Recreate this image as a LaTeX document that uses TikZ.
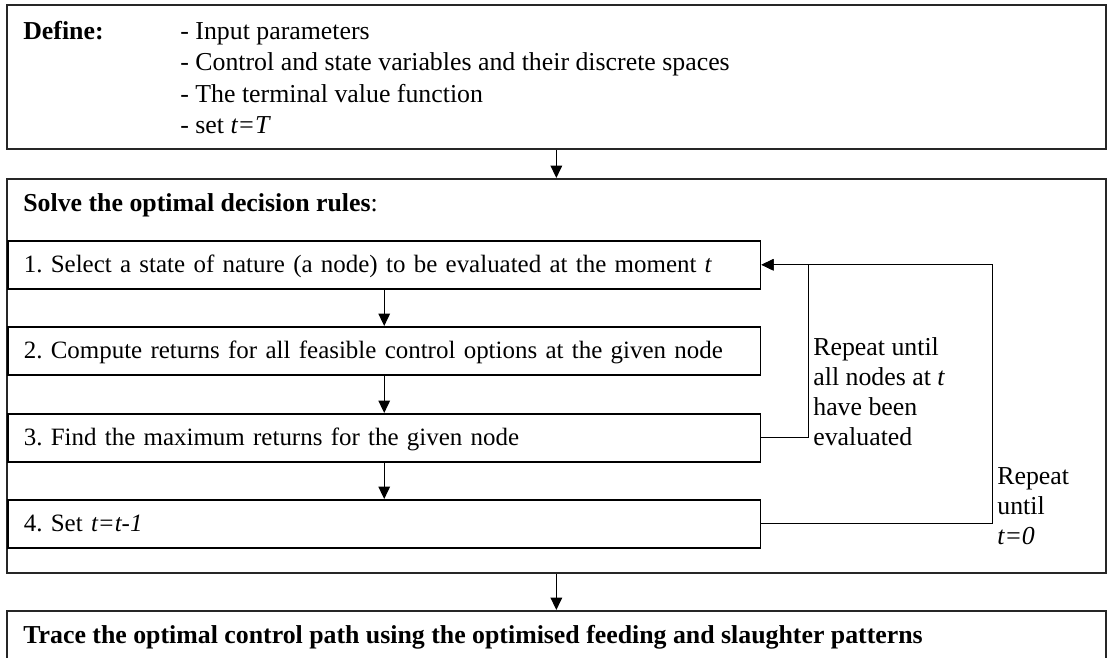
\documentclass[tikz,border=0pt]{standalone}
\usepackage{fontspec}
\setmainfont{Liberation Serif}
\usetikzlibrary{arrows.meta}
\frenchspacing

\begin{document}
\begin{tikzpicture}
  [x=0.02cm,y=-0.02cm,
   every node/.style={font=\fontsize{14.7}{17.1}\selectfont,inner sep=0pt},
   outerbox/.style={draw=black!85,line width=1.1pt,anchor=north west,minimum width=21.98cm},
   stepbox/.style={draw,line width=0.9pt,anchor=north west,inner xsep=0.32cm,
     minimum width=15.06cm,minimum height=0.96cm,text width=14.42cm,align=left,
     font=\fontsize{14.2}{17}\selectfont,text height=10.5pt,text depth=1.5pt},
   looplabel/.style={anchor=north west,align=left},
   conn/.style={-{Triangle[length=7pt,width=6.5pt]},line width=0.8pt}]
  \clip (0,0) rectangle (1107,657);

  % first box
  \node[outerbox,minimum height=2.88cm] (define) at (6,4) {};
  \node[anchor=base west] (deftitle) at (23,39) {\textbf{Define:}};
  \node[anchor=north west,align=left,font=\fontsize{14.7}{17.9}\selectfont] (deflist) at (180,22)
    {- Input parameters\\- Control and state variables and their discrete spaces\\- The terminal value function\\- set \textit{t=T}};

  % backward recursion
  \node[outerbox,minimum height=7.88cm] (solve) at (6,178) {};
  \node[anchor=base west] (solvetitle) at (23,211) {\textbf{Solve the optimal decision rules}:};
  \node[stepbox] (s1) at (7,240) {1. Select a state of nature (a node) to be evaluated at the moment \textit{t}};
  \node[stepbox] (s2) at (7,326) {2. Compute returns for all feasible control options at the given node};
  \node[stepbox] (s3) at (7,413) {3. Find the maximum returns for the given node};
  \node[stepbox] (s4) at (7,499) {4. Set \textit{t=t-1}};

  % last box
  \node[outerbox,minimum height=1.6cm] (trace) at (6,610) {};
  \node[anchor=base west] (tracetitle) at (23,643)
    {\textbf{Trace the optimal control path using the optimised feeding and slaughter patterns}};

  \node[looplabel] (nodeloop) at (813,337) {Repeat until\\all nodes at \textit{t}\\have been\\evaluated};
  \node[looplabel] (timeloop) at (997,467) {Repeat\\until\\\textit{t=0}};

  \draw[conn] (define) -- (solve);
  \draw[conn] (s1) -- (s2);
  \draw[conn] (s2) -- (s3);
  \draw[conn] (s3) -- (s4);
  \draw[conn] (s3.east) -- ++(47,0) |- (s1.east);
  \draw[conn] (s4.east) -- ++(231,0) |- (s1.east);
  \draw[conn] (solve) -- (trace);

\end{tikzpicture}
\end{document}
